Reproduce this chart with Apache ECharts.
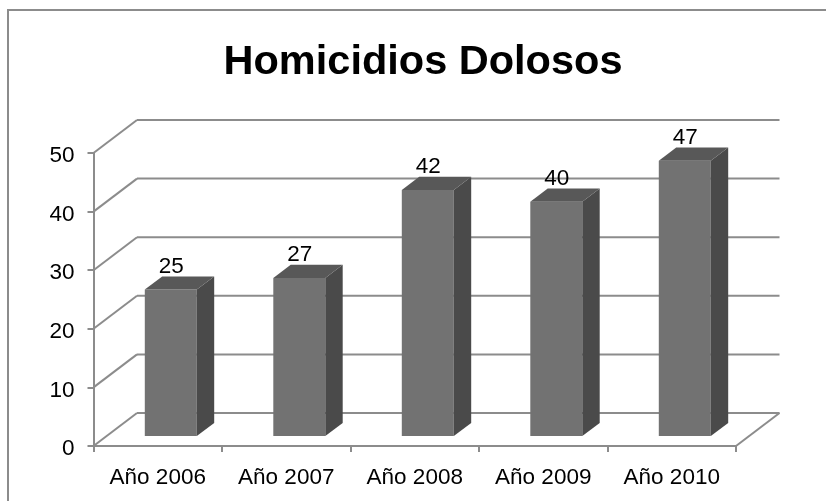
<!DOCTYPE html>
<html>
<head>
<meta charset="utf-8">
<style>
  html, body { margin: 0; padding: 0; background: #fff; }
  #chart { width: 826px; height: 501px; }
</style>
<script src="https://cdn.jsdelivr.net/npm/echarts@6/dist/echarts.min.js"></script>
</head>
<body>
<div id="chart"></div>
<script>
  const categories = ['Año 2006', 'Año 2007', 'Año 2008', 'Año 2009', 'Año 2010'];
  const homicidios = [25, 27, 42, 40, 47];
  const yTicks = [0, 10, 20, 30, 40, 50];

  const FONT = '"Liberation Sans", Arial, sans-serif';
  const LINE = '#8c8c8c';
  // fake 3d: how far the back wall sits from the front axes
  const DEPTH_X = 43.5;
  const DEPTH_Y = -33;
  const BAR_W = 52;

  const myChart = echarts.init(document.getElementById('chart'), null, { renderer: 'canvas' });

  const renderWall = (params, api) => {
    const v = api.value(0);
    const p = api.coord([0, v]);
    const left = p[0] - params.coordSys.width / categories.length / 2;
    const right = left + params.coordSys.width;
    const style = { stroke: LINE, lineWidth: 2, fill: null };
    const children = [
      // diagonal on the side wall
      { type: 'line', shape: { x1: left, y1: p[1], x2: left + DEPTH_X, y2: p[1] + DEPTH_Y }, style },
      // line along the back wall
      { type: 'line', shape: { x1: left + DEPTH_X, y1: p[1] + DEPTH_Y, x2: right + DEPTH_X, y2: p[1] + DEPTH_Y }, style },
    ];
    if (v === 0) {
      children.push({ type: 'line', shape: { x1: right, y1: p[1], x2: right + DEPTH_X, y2: p[1] + DEPTH_Y }, style });
    }
    return { type: 'group', children };
  };

  const renderBar = (params, api) => {
    const top = api.coord([api.value(0), api.value(1)]);
    const base = api.coord([api.value(0), 0]);
    const x0 = top[0] + DEPTH_X * 0.3 - BAR_W / 2;
    const x1 = x0 + BAR_W;
    const yTop = top[1] + DEPTH_Y * 0.3;
    const yBase = base[1] + DEPTH_Y * 0.3;
    const dx = DEPTH_X * 0.4;
    const dy = DEPTH_Y * 0.4;
    return {
      type: 'group',
      children: [
        {
          type: 'rect',
          shape: { x: x0, y: yTop, width: BAR_W, height: yBase - yTop },
          style: { fill: '#727272' },
        },
        {
          type: 'polygon',
          shape: { points: [[x1, yTop], [x1 + dx, yTop + dy], [x1 + dx, yBase + dy], [x1, yBase]] },
          style: { fill: '#4a4a4a' },
        },
        {
          type: 'polygon',
          shape: { points: [[x0, yTop], [x0 + dx, yTop + dy], [x1 + dx, yTop + dy], [x1, yTop]] },
          style: { fill: '#585858' },
        },
        {
          type: 'text',
          style: {
            text: String(api.value(1)),
            x: x0 + BAR_W / 2 + 0.5,
            y: yTop - 23,
            align: 'center',
            verticalAlign: 'middle',
            font: '22.5px ' + FONT,
            fill: '#000',
          },
        },
      ],
    };
  };

  const option = {
    animation: false,
    backgroundColor: '#fff',
    title: {
      text: 'Homicidios Dolosos',
      left: 418,
      top: 37,
      textAlign: 'center',
      textStyle: { fontFamily: FONT, fontSize: 41.5, fontWeight: 'bold', color: '#000' },
    },
    grid: { left: 93.5, right: 90, top: 153, bottom: 55 },
    xAxis: {
      type: 'category',
      data: categories,
      axisLine: { lineStyle: { color: LINE, width: 2 } },
      axisTick: { show: true, alignWithLabel: false, length: 6, lineStyle: { color: LINE, width: 2 } },
      axisLabel: { fontFamily: FONT, fontSize: 22.5, color: '#000', margin: 20 },
    },
    yAxis: {
      type: 'value',
      min: 0,
      max: 50,
      interval: 10,
      axisLine: { show: true, lineStyle: { color: LINE, width: 2 } },
      axisTick: { show: true, length: 6, lineStyle: { color: LINE, width: 2 } },
      axisLabel: { fontFamily: FONT, fontSize: 22.5, color: '#000', margin: 19, verticalAlign: 'top', lineHeight: 6 },
      splitLine: { show: false },
    },
    graphic: [
      {
        type: 'rect',
        shape: { x: 8, y: 10, width: 900, height: 600 },
        style: { fill: null, stroke: LINE, lineWidth: 2 },
        silent: true,
      },
    ],
    series: [
      {
        type: 'custom',
        renderItem: renderWall,
        encode: { y: 0 },
        data: yTicks.map((v) => [v]),
        z: 1,
        clip: false,
      },
      {
        type: 'custom',
        renderItem: renderBar,
        encode: { x: 0, y: 1 },
        data: homicidios.map((v, i) => [i, v]),
        z: 3,
        clip: false,
      },
    ],
  };

  myChart.setOption(option);
</script>
</body>
</html>
